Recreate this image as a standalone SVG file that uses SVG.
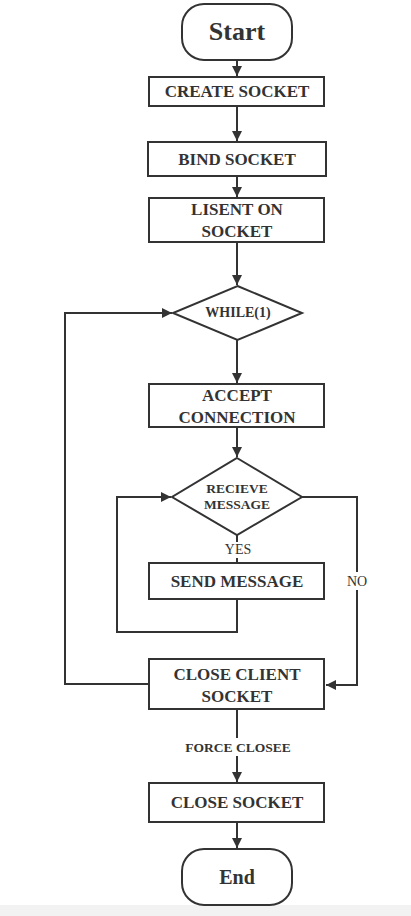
<svg xmlns="http://www.w3.org/2000/svg" width="411" height="916" viewBox="0 0 411 916">
<style>
.s{fill:#fff;stroke:#333;stroke-width:2}
.t{font-family:'Liberation Serif','Times New Roman','DejaVu Serif',serif;font-weight:bold;fill:#333;text-anchor:middle}
.n{font-family:'Liberation Serif','Times New Roman','DejaVu Serif',serif;fill:#333;text-anchor:middle}
.c{fill:none;stroke:#333;stroke-width:2}
</style>
<defs>
<marker id="a" viewBox="0 0 10 10" refX="10" refY="5" markerWidth="6" markerHeight="5" orient="auto" markerUnits="strokeWidth">
<path d="M0,0 L10,5 L0,10 z" fill="#333"/>
</marker>
</defs>
<rect x="0" y="0" width="411" height="916" fill="#fff"/>
<rect x="0" y="905" width="411" height="11" fill="#f2f2f2"/>
<g id="connectors">
<path class="c" d="M237,60 V76" marker-end="url(#a)"/>
<path class="c" d="M237,106 V141" marker-end="url(#a)"/>
<path class="c" d="M237,176 V197" marker-end="url(#a)"/>
<path class="c" d="M237,242 V285" marker-end="url(#a)"/>
<path class="c" d="M237,340 V383" marker-end="url(#a)"/>
<path class="c" d="M237,427 V457" marker-end="url(#a)"/>
<path class="c" d="M237,535 V542"/>
<path class="c" d="M237,558 V563"/>
<path class="c" d="M237,599 V632 H117 V497 H171" marker-end="url(#a)"/>
<path class="c" d="M302,497 H357 V685 H326" marker-end="url(#a)"/>
<path class="c" d="M149,684 H65 V313 H172" marker-end="url(#a)"/>
<path class="c" d="M237,709 V738"/>
<path class="c" d="M237,756 V782" marker-end="url(#a)"/>
<path class="c" d="M237,822 V848" marker-end="url(#a)"/>
<text class="n" x="238" y="554" font-size="14">YES</text>
<rect x="347" y="572" width="22" height="18" fill="#fff"/>
<text class="n" x="357" y="586" font-size="14">NO</text>
<text class="t" x="238" y="752" font-size="13.5">FORCE CLOSEE</text>
</g>
<g id="start"><rect class="s" x="182" y="4" width="110" height="56" rx="22"/><text class="t" x="237" y="40" font-size="26">Start</text></g>
<g id="create"><rect class="s" x="149" y="77" width="175" height="29"/><text class="t" x="237" y="97" font-size="17">CREATE SOCKET</text></g>
<g id="bind"><rect class="s" x="148" y="142" width="178" height="34"/><text class="t" x="237" y="165" font-size="17">BIND SOCKET</text></g>
<g id="listen"><rect class="s" x="149" y="198" width="175" height="44"/><text class="t" x="237" y="215" font-size="17">LISENT ON</text><text class="t" x="237" y="237" font-size="17">SOCKET</text></g>
<g id="while"><polygon class="s" points="237.5,286 302,313 237.5,340 173,313"/><text class="t" x="238" y="317" font-size="14">WHILE(1)</text></g>
<g id="accept"><rect class="s" x="149" y="384" width="175" height="43"/><text class="t" x="237" y="401" font-size="17">ACCEPT</text><text class="t" x="237" y="423" font-size="17">CONNECTION</text></g>
<g id="receive"><polygon class="s" points="237,458 302,497 237,535 172,497"/><text class="t" x="237" y="493" font-size="13.5">RECIEVE</text><text class="t" x="237" y="509" font-size="13.5">MESSAGE</text></g>
<g id="send"><rect class="s" x="149" y="563" width="175" height="36"/><text class="t" x="237" y="587" font-size="17">SEND MESSAGE</text></g>
<g id="closeclient"><rect class="s" x="149" y="659" width="175" height="50"/><text class="t" x="237" y="680" font-size="17">CLOSE CLIENT</text><text class="t" x="237" y="702" font-size="17">SOCKET</text></g>
<g id="closesocket"><rect class="s" x="149" y="783" width="175" height="39"/><text class="t" x="237" y="808" font-size="17">CLOSE SOCKET</text></g>
<g id="end"><rect class="s" x="182" y="849" width="110" height="56" rx="22"/><text class="t" x="237" y="884" font-size="20">End</text></g>
</svg>
